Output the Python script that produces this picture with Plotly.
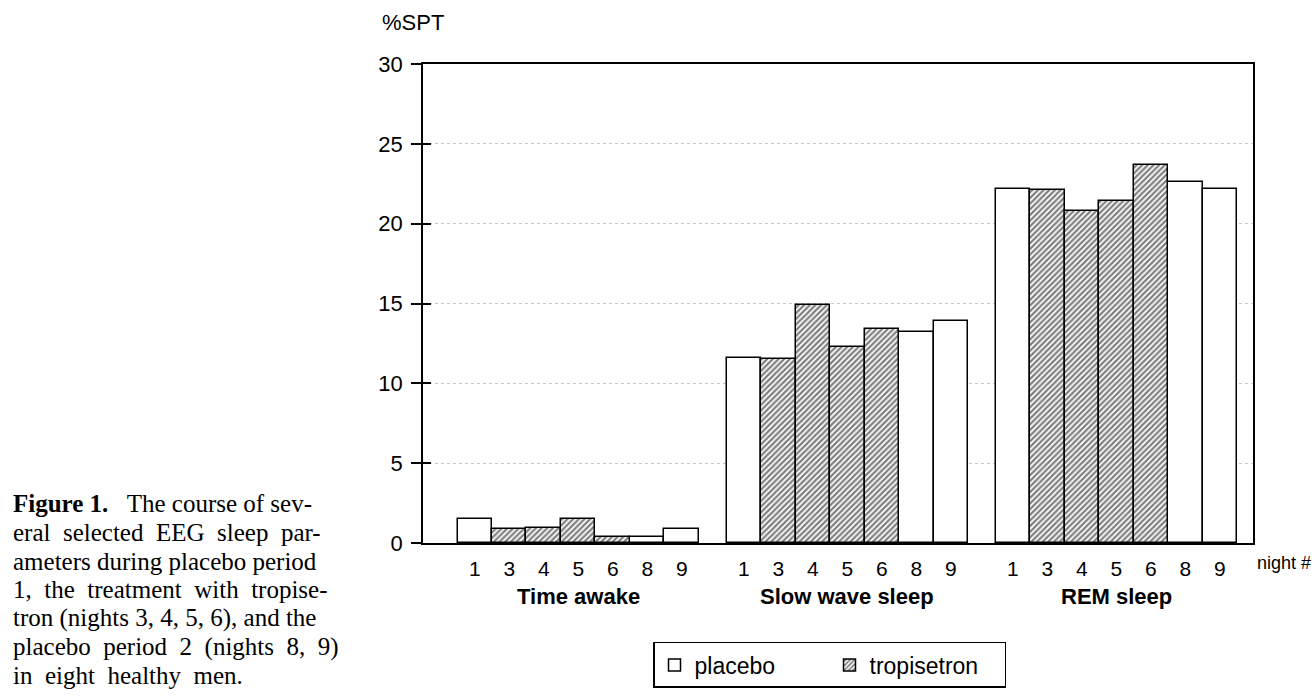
import plotly.graph_objects as go

# ---- data ----
groups = ["Time awake", "Slow wave sleep", "REM sleep"]
nights = ["1", "3", "4", "5", "6", "8", "9"]
treatment = ["placebo", "tropisetron", "tropisetron", "tropisetron", "tropisetron", "placebo", "placebo"]
time_awake = [1.5, 0.85, 0.95, 1.5, 0.4, 0.4, 0.85]
slow_wave = [11.6, 11.5, 14.9, 12.3, 13.4, 13.2, 13.9]
rem_sleep = [22.2, 22.1, 20.8, 21.4, 23.7, 22.6, 22.2]
y_ticks = [0, 5, 10, 15, 20, 25, 30]
caption_lines = [
    "<b>Figure 1.</b>   The course of sev-",
    "eral  selected  EEG  sleep  par-",
    "ameters during placebo period",
    "1,  the  treatment  with  tropise-",
    "tron (nights 3, 4, 5, 6), and the",
    "placebo  period  2  (nights  8,  9)",
    "in  eight  healthy  men.",
]

series = [time_awake, slow_wave, rem_sleep]

# ---- layout geometry (in bar units) ----
GROUP_STEP = 7.8
FIRST = 1.0
X_MAX = 24.06

xs = {"placebo": [], "tropisetron": []}
ys = {"placebo": [], "tropisetron": []}
tickvals, ticktext, centers = [], [], []
for g, vals in enumerate(series):
    start = FIRST + GROUP_STEP * g
    for i, (n, t, v) in enumerate(zip(nights, treatment, vals)):
        xc = start + i + 0.5
        xs[t].append(xc)
        ys[t].append(v)
        tickvals.append(xc)
        ticktext.append(n)
    centers.append(start + len(nights) / 2)

fig = go.Figure()
fig.add_trace(go.Bar(
    x=xs["placebo"], y=ys["placebo"], width=1, name="placebo",
    marker=dict(color="white", line=dict(color="black", width=1.5)),
))
fig.add_trace(go.Bar(
    x=xs["tropisetron"], y=ys["tropisetron"], width=1, name="tropisetron",
    marker=dict(color="white", line=dict(color="black", width=1.5),
                pattern=dict(shape="/", fgcolor="black", bgcolor="white", size=4, solidity=0.55)),
))
# invisible helper trace for inside tick marks on the y axis
fig.add_trace(go.Scatter(x=[None], y=[None], yaxis="y2", showlegend=False, hoverinfo="skip"))

SANS = "Liberation Sans, Arial, sans-serif"

fig.update_layout(
    width=1315, height=700,
    margin=dict(l=423, r=62, t=64, b=147),
    paper_bgcolor="white", plot_bgcolor="white",
    barmode="overlay", bargap=0,
    font=dict(family=SANS, color="black", size=21),
    xaxis=dict(range=[0, X_MAX], tickvals=tickvals, ticktext=ticktext, ticks="",
               showgrid=False, zeroline=False, showline=True, linecolor="black", linewidth=1.5,
               mirror=True, tickfont=dict(size=21), ticklabelstandoff=6),
    yaxis=dict(range=[0, 30], tickvals=y_ticks, ticks="outside", ticklen=10, tickwidth=1.5,
               tickcolor="black", showline=True, linecolor="black", linewidth=1.5, mirror=True,
               showgrid=True, gridcolor="#c8c8c8", griddash="dot", gridwidth=1.2,
               zeroline=False, tickfont=dict(size=22), ticklabelstandoff=4),
    yaxis2=dict(range=[0, 30], overlaying="y", tickvals=y_ticks, ticks="inside", ticklen=8,
                tickwidth=1.5, tickcolor="black", showticklabels=False, showgrid=False,
                zeroline=False, showline=False, side="left"),
    legend=dict(orientation="h", x=(653 - 423) / 830, xanchor="left",
                y=(553 - 654) / 489, yanchor="top",
                bordercolor="black", borderwidth=1.5, bgcolor="white",
                font=dict(size=23, family=SANS), entrywidth=130, traceorder="normal"),
    showlegend=True,
)

anns = []
for c, name in zip(centers, groups):
    anns.append(dict(x=c, xref="x", y=(553 - 608) / 489, yref="paper", text="<b>%s</b>" % name,
                     showarrow=False, font=dict(size=22, family=SANS), xanchor="center", yanchor="middle"))
anns.append(dict(x=(1313 - 423) / 830, xref="paper", y=(553 - 573) / 489, yref="paper", text="night #",
                 showarrow=False, font=dict(size=18, family=SANS),
                 xanchor="right", yanchor="middle"))
anns.append(dict(x=(380 - 423) / 830, xref="paper", y=(553 - 22) / 489, yref="paper", text="%SPT",
                 showarrow=False, font=dict(size=22, family=SANS), xanchor="left", yanchor="middle"))
for k, line in enumerate(caption_lines):
    yc = 513 + 29.2 * k
    anns.append(dict(x=(11 - 423) / 830, xref="paper", y=(553 - yc) / 489, yref="paper", text=line,
                     showarrow=False, font=dict(size=25, family="Liberation Serif, Times New Roman, serif"),
                     xanchor="left", yanchor="middle"))
fig.update_layout(annotations=anns)

fig.write_html(
    "out.html",
    config={"displayModeBar": False},
    post_script="document.body.style.margin='0';document.body.style.padding='0';"
                "document.body.style.overflow='hidden';",
)
